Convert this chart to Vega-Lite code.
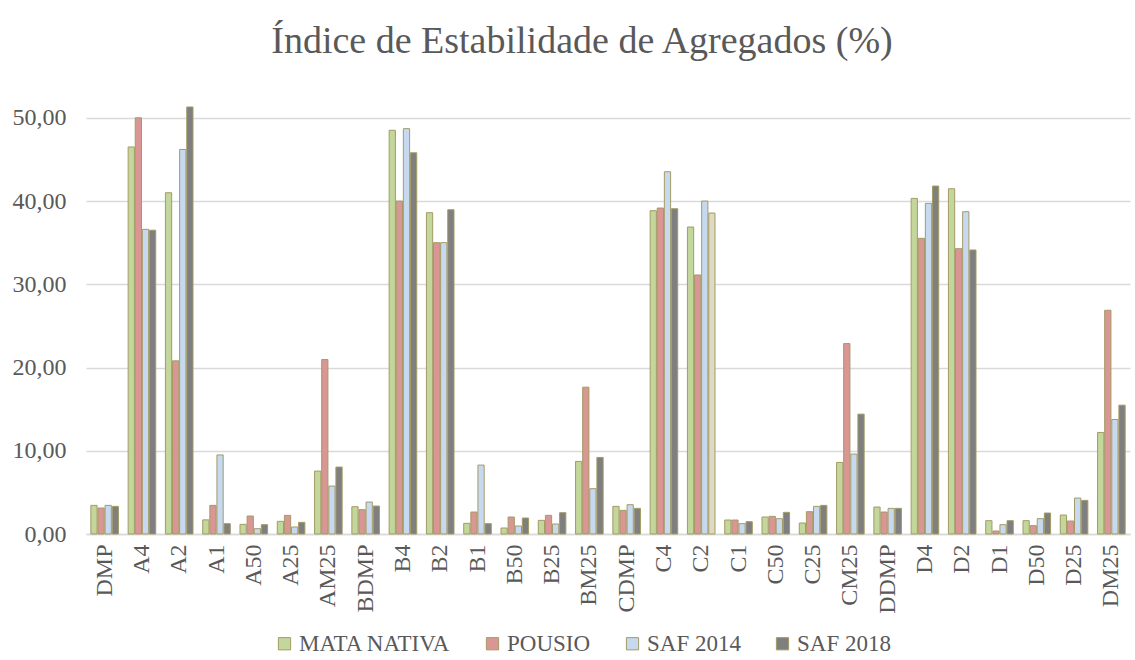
{
  "$schema": "https://vega.github.io/schema/vega-lite/v6.json",
  "width": 1044,
  "height": 437,
  "autosize": {"type": "none"},
  "padding": {"left": 86, "top": 97, "right": 5, "bottom": 126},
  "background": "white",
  "title": {
    "text": "Índice de Estabilidade de Agregados (%)",
    "font": "Liberation Serif",
    "fontSize": 38,
    "fontWeight": "normal",
    "color": "#595959",
    "anchor": "middle",
    "dx": -26,
    "offset": 36
  },
  "config": {
    "view": {"stroke": null},
    "axis": {"labelFont": "Liberation Serif", "labelColor": "#595959"},
    "legend": {"labelFont": "Liberation Serif", "labelColor": "#595959"}
  },
  "data": {
    "values": [
      {"category": "DMP", "series": "MATA NATIVA", "value": 3.44},
      {"category": "DMP", "series": "POUSIO", "value": 3.12},
      {"category": "DMP", "series": "SAF 2014", "value": 3.44},
      {"category": "DMP", "series": "SAF 2018", "value": 3.32},
      {"category": "A4", "series": "MATA NATIVA", "value": 46.5},
      {"category": "A4", "series": "POUSIO", "value": 50.0},
      {"category": "A4", "series": "SAF 2014", "value": 36.6},
      {"category": "A4", "series": "SAF 2018", "value": 36.5},
      {"category": "A2", "series": "MATA NATIVA", "value": 41.0},
      {"category": "A2", "series": "POUSIO", "value": 20.8},
      {"category": "A2", "series": "SAF 2014", "value": 46.2},
      {"category": "A2", "series": "SAF 2018", "value": 51.3},
      {"category": "A1", "series": "MATA NATIVA", "value": 1.7},
      {"category": "A1", "series": "POUSIO", "value": 3.44},
      {"category": "A1", "series": "SAF 2014", "value": 9.5},
      {"category": "A1", "series": "SAF 2018", "value": 1.24},
      {"category": "A50", "series": "MATA NATIVA", "value": 1.16},
      {"category": "A50", "series": "POUSIO", "value": 2.16},
      {"category": "A50", "series": "SAF 2014", "value": 0.64},
      {"category": "A50", "series": "SAF 2018", "value": 1.12},
      {"category": "A25", "series": "MATA NATIVA", "value": 1.52},
      {"category": "A25", "series": "POUSIO", "value": 2.24},
      {"category": "A25", "series": "SAF 2014", "value": 0.84},
      {"category": "A25", "series": "SAF 2018", "value": 1.4},
      {"category": "AM25", "series": "MATA NATIVA", "value": 7.56},
      {"category": "AM25", "series": "POUSIO", "value": 20.96},
      {"category": "AM25", "series": "SAF 2014", "value": 5.76},
      {"category": "AM25", "series": "SAF 2018", "value": 8.04},
      {"category": "BDMP", "series": "MATA NATIVA", "value": 3.28},
      {"category": "BDMP", "series": "POUSIO", "value": 2.92},
      {"category": "BDMP", "series": "SAF 2014", "value": 3.84},
      {"category": "BDMP", "series": "SAF 2018", "value": 3.36},
      {"category": "B4", "series": "MATA NATIVA", "value": 48.5},
      {"category": "B4", "series": "POUSIO", "value": 40.0},
      {"category": "B4", "series": "SAF 2014", "value": 48.7},
      {"category": "B4", "series": "SAF 2018", "value": 45.8},
      {"category": "B2", "series": "MATA NATIVA", "value": 38.6},
      {"category": "B2", "series": "POUSIO", "value": 35.0},
      {"category": "B2", "series": "SAF 2014", "value": 35.0},
      {"category": "B2", "series": "SAF 2018", "value": 38.96},
      {"category": "B1", "series": "MATA NATIVA", "value": 1.28},
      {"category": "B1", "series": "POUSIO", "value": 2.64},
      {"category": "B1", "series": "SAF 2014", "value": 8.28},
      {"category": "B1", "series": "SAF 2018", "value": 1.24},
      {"category": "B50", "series": "MATA NATIVA", "value": 0.72},
      {"category": "B50", "series": "POUSIO", "value": 2.04},
      {"category": "B50", "series": "SAF 2014", "value": 0.96},
      {"category": "B50", "series": "SAF 2018", "value": 1.92},
      {"category": "B25", "series": "MATA NATIVA", "value": 1.64},
      {"category": "B25", "series": "POUSIO", "value": 2.24},
      {"category": "B25", "series": "SAF 2014", "value": 1.2},
      {"category": "B25", "series": "SAF 2018", "value": 2.56},
      {"category": "BM25", "series": "MATA NATIVA", "value": 8.72},
      {"category": "BM25", "series": "POUSIO", "value": 17.64},
      {"category": "BM25", "series": "SAF 2014", "value": 5.44},
      {"category": "BM25", "series": "SAF 2018", "value": 9.2},
      {"category": "CDMP", "series": "MATA NATIVA", "value": 3.32},
      {"category": "CDMP", "series": "POUSIO", "value": 2.84},
      {"category": "CDMP", "series": "SAF 2014", "value": 3.52},
      {"category": "CDMP", "series": "SAF 2018", "value": 3.08},
      {"category": "C4", "series": "MATA NATIVA", "value": 38.84},
      {"category": "C4", "series": "POUSIO", "value": 39.16},
      {"category": "C4", "series": "SAF 2014", "value": 43.52},
      {"category": "C4", "series": "SAF 2018", "value": 39.08},
      {"category": "C2", "series": "MATA NATIVA", "value": 36.88},
      {"category": "C2", "series": "POUSIO", "value": 31.12},
      {"category": "C2", "series": "SAF 2014", "value": 40.0},
      {"category": "C2", "series": "SAF 2018", "value": 38.56},
      {"category": "C1", "series": "MATA NATIVA", "value": 1.68},
      {"category": "C1", "series": "POUSIO", "value": 1.68},
      {"category": "C1", "series": "SAF 2014", "value": 1.24},
      {"category": "C1", "series": "SAF 2018", "value": 1.48},
      {"category": "C50", "series": "MATA NATIVA", "value": 2.04},
      {"category": "C50", "series": "POUSIO", "value": 2.12},
      {"category": "C50", "series": "SAF 2014", "value": 1.84},
      {"category": "C50", "series": "SAF 2018", "value": 2.6},
      {"category": "C25", "series": "MATA NATIVA", "value": 1.32},
      {"category": "C25", "series": "POUSIO", "value": 2.68},
      {"category": "C25", "series": "SAF 2014", "value": 3.32},
      {"category": "C25", "series": "SAF 2018", "value": 3.44},
      {"category": "CM25", "series": "MATA NATIVA", "value": 8.6},
      {"category": "CM25", "series": "POUSIO", "value": 22.88},
      {"category": "CM25", "series": "SAF 2014", "value": 9.6},
      {"category": "CM25", "series": "SAF 2018", "value": 14.4},
      {"category": "DDMP", "series": "MATA NATIVA", "value": 3.24},
      {"category": "DDMP", "series": "POUSIO", "value": 2.64},
      {"category": "DDMP", "series": "SAF 2014", "value": 3.08},
      {"category": "DDMP", "series": "SAF 2018", "value": 3.08},
      {"category": "D4", "series": "MATA NATIVA", "value": 40.32},
      {"category": "D4", "series": "POUSIO", "value": 35.52},
      {"category": "D4", "series": "SAF 2014", "value": 39.72},
      {"category": "D4", "series": "SAF 2018", "value": 41.8},
      {"category": "D2", "series": "MATA NATIVA", "value": 41.48},
      {"category": "D2", "series": "POUSIO", "value": 34.28},
      {"category": "D2", "series": "SAF 2014", "value": 38.72},
      {"category": "D2", "series": "SAF 2018", "value": 34.12},
      {"category": "D1", "series": "MATA NATIVA", "value": 1.6},
      {"category": "D1", "series": "POUSIO", "value": 0.36},
      {"category": "D1", "series": "SAF 2014", "value": 1.12},
      {"category": "D1", "series": "SAF 2018", "value": 1.6},
      {"category": "D50", "series": "MATA NATIVA", "value": 1.6},
      {"category": "D50", "series": "POUSIO", "value": 1.0},
      {"category": "D50", "series": "SAF 2014", "value": 1.84},
      {"category": "D50", "series": "SAF 2018", "value": 2.52},
      {"category": "D25", "series": "MATA NATIVA", "value": 2.28},
      {"category": "D25", "series": "POUSIO", "value": 1.56},
      {"category": "D25", "series": "SAF 2014", "value": 4.32},
      {"category": "D25", "series": "SAF 2018", "value": 4.04},
      {"category": "DM25", "series": "MATA NATIVA", "value": 12.2},
      {"category": "DM25", "series": "POUSIO", "value": 26.88},
      {"category": "DM25", "series": "SAF 2014", "value": 13.76},
      {"category": "DM25", "series": "SAF 2018", "value": 15.48}
    ]
  },
  "mark": {"type": "bar", "stroke": "#A39B64", "strokeWidth": 1, "clip": false},
  "encoding": {
    "x": {
      "field": "category",
      "type": "nominal",
      "sort": null,
      "scale": {"paddingInner": 0.26, "paddingOuter": 0.13},
      "axis": {
        "title": null,
        "labelAngle": 270,
        "labelAlign": "right",
        "labelBaseline": "middle",
        "labelFont": "Liberation Serif",
        "labelFontSize": 24,
        "labelPadding": 10,
        "ticks": false,
        "domainColor": "#D9D9D9",
        "domainWidth": 1.5
      }
    },
    "xOffset": {"field": "series", "type": "nominal", "sort": ["MATA NATIVA", "POUSIO", "SAF 2014", "SAF 2018"], "scale": {"paddingInner": 0.12}},
    "y": {
      "field": "value",
      "type": "quantitative",
      "scale": {"domain": [0, 52.5], "nice": false},
      "axis": {
        "title": null,
        "values": [0, 10, 20, 30, 40, 50],
        "labelExpr": "replace(format(datum.value, '.2f'), '.', ',')",
        "labelFont": "Liberation Serif",
        "labelFontSize": 24,
        "labelPadding": 20,
        "ticks": false,
        "domain": false,
        "gridColor": "#D9D9D9",
        "gridWidth": 1.5
      }
    },
    "color": {
      "condition": {"test": "datum.category === 'C2' && datum.series === 'SAF 2018'", "value": "#DDD9C3"},
      "field": "series",
      "type": "nominal",
      "sort": ["MATA NATIVA", "POUSIO", "SAF 2014", "SAF 2018"],
      "scale": {"domain": ["MATA NATIVA", "POUSIO", "SAF 2014", "SAF 2018"], "range": ["#C3D69B", "#D99694", "#C6D9F1", "#7F7F7F"]},
      "legend": {
        "title": null,
        "orient": "none",
        "direction": "horizontal",
        "legendX": 187,
        "legendY": 535,
        "symbolType": "square",
        "symbolSize": 150,
        "symbolStrokeColor": "#A39B64",
        "symbolStrokeWidth": 1,
        "labelFont": "Liberation Serif",
        "labelFontSize": 23,
        "labelOffset": 3,
        "columnPadding": 30
      }
    }
  }
}
